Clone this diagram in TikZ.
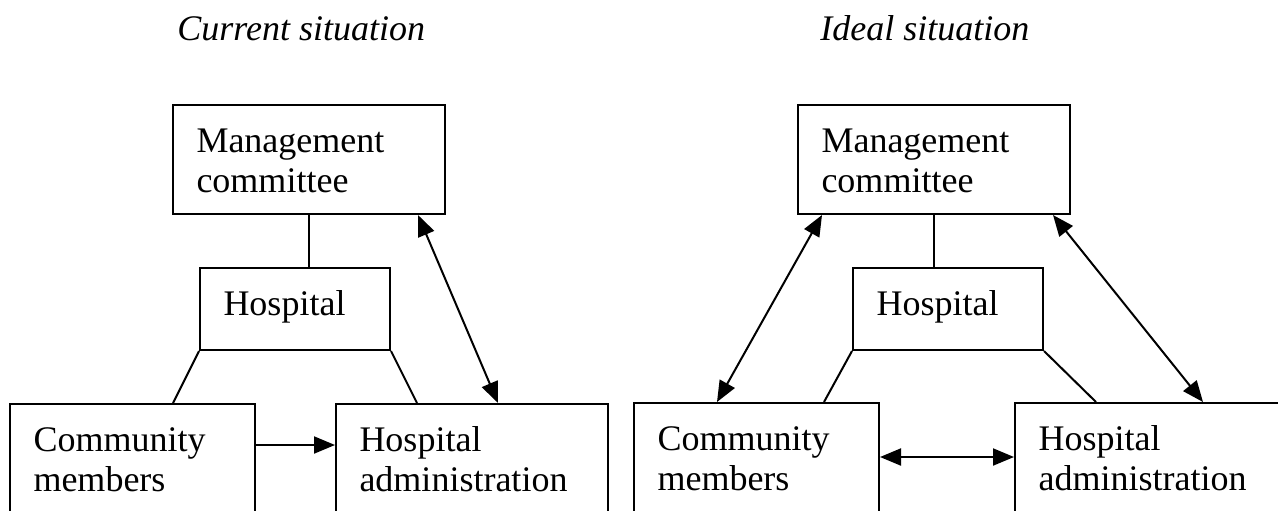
\documentclass[tikz,border=0pt]{standalone}
\usepackage{fontspec}
\setmainfont{Liberation Serif}
\usetikzlibrary{arrows.meta,calc}

\tikzset{
  box/.style={draw, rectangle, line width=1pt, anchor=north west,
    inner xsep=11.75pt, inner ysep=0pt, align=left, text height=23.5pt},
  wide/.style={box, text width=112.5pt},
  narrow/.style={box, text width=71.5pt},
  mid/.style={box, text width=99pt},
  title/.style={anchor=base west, inner sep=0pt, font=\fontsize{18}{20}\selectfont\itshape},
  link/.style={line width=1pt},
  oneway/.style={link, -{Triangle[length=10.5pt,width=8.5pt]}},
  twoway/.style={link, {Triangle[length=10.5pt,width=8.5pt]}-{Triangle[length=10.5pt,width=8.5pt]}}
}

\begin{document}
\begin{tikzpicture}[x=0.5pt, y=-0.5pt, font=\fontsize{18}{20}\selectfont]
      \clip (0,0) rectangle (1278,510);
      \draw
        (177,40) node[title] (ctitle){Current situation}
        (820,40) node[title] (ititle){Ideal situation}
        % current situation
        (172,104) node[wide, text depth=31pt] (cmgmt){Management\\committee}
        (199,267) node[narrow, text depth=17.5pt] (chosp){Hospital}
        (9,403) node[mid, text depth=60pt] (ccomm){Community\\members}
        (335,403) node[wide, text depth=60pt] (cadmin){Hospital\\administration}
        % ideal situation
        (797,104) node[wide, text depth=31pt] (imgmt){Management\\committee}
        (852,267) node[narrow, text depth=17.5pt] (ihosp){Hospital}
        (633,402) node[mid, text depth=60pt] (icomm){Community\\members}
        (1014,402) node[wide, text depth=60pt] (iadmin){Hospital\\administration};
      \begin{scope}[link]
        \draw (cmgmt.south) to (cmgmt.south |- chosp.north);
        \draw (chosp.south west) to ($(ccomm.north west)+(164,0)$);
        \draw (chosp.south east) to ($(cadmin.north west)+(82,0)$);
        \draw[twoway] ($(cmgmt.south west)+(246,0)$) to ($(cadmin.north west)+(163,0)$);
        \draw[oneway] ($(ccomm.north east)+(0,42)$) to ($(cadmin.north west)+(0,42)$);
        \draw (imgmt.south) to (imgmt.south |- ihosp.north);
        \draw (ihosp.south west) to ($(icomm.north west)+(191,0)$);
        \draw (ihosp.south east) to ($(iadmin.north west)+(82,0)$);
        \draw[twoway] ($(imgmt.south west)+(25,0)$) to ($(icomm.north west)+(84,0)$);
        \draw[twoway] ($(imgmt.south west)+(256,0)$) to ($(iadmin.north west)+(189,0)$);
        \draw[twoway] ($(icomm.north east)+(0,55)$) to ($(iadmin.north west)+(0,55)$);
      \end{scope}
\end{tikzpicture}
\end{document}
